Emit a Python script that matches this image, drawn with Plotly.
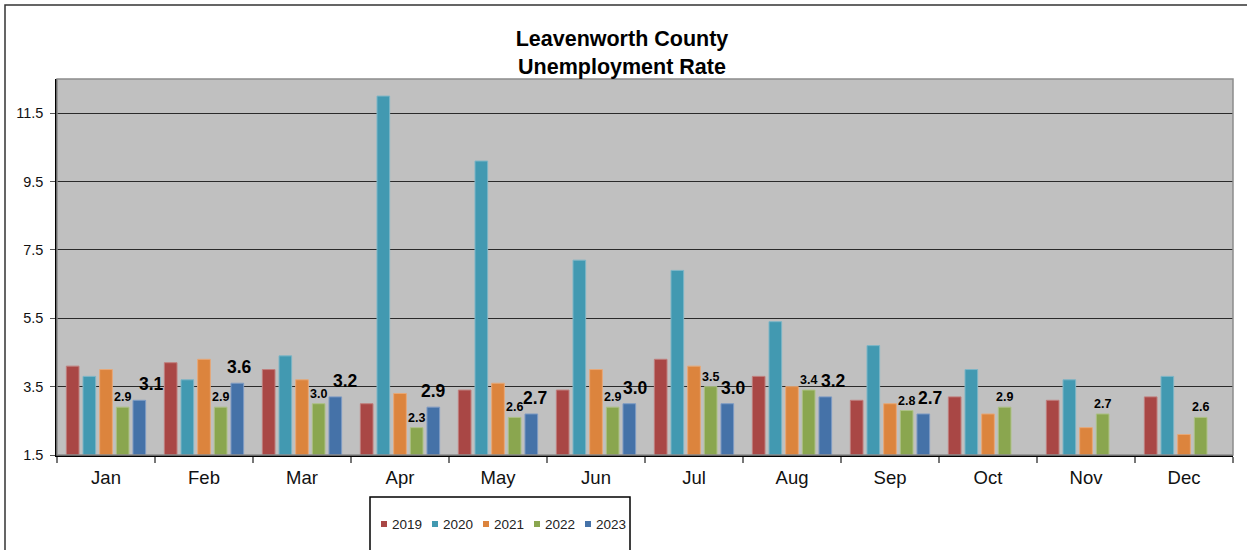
import plotly.graph_objects as go

months = ["Jan", "Feb", "Mar", "Apr", "May", "Jun", "Jul", "Aug", "Sep", "Oct", "Nov", "Dec"]
years = ["2019", "2020", "2021", "2022", "2023"]

rate_2019 = [4.1, 4.2, 4.0, 3.0, 3.4, 3.4, 4.3, 3.8, 3.1, 3.2, 3.1, 3.2]
rate_2020 = [3.8, 3.7, 4.4, 12.0, 10.1, 7.2, 6.9, 5.4, 4.7, 4.0, 3.7, 3.8]
rate_2021 = [4.0, 4.3, 3.7, 3.3, 3.6, 4.0, 4.1, 3.5, 3.0, 2.7, 2.3, 2.1]
rate_2022 = [2.9, 2.9, 3.0, 2.3, 2.6, 2.9, 3.5, 3.4, 2.8, 2.9, 2.7, 2.6]
rate_2023 = [3.1, 3.6, 3.2, 2.9, 2.7, 3.0, 3.0, 3.2, 2.7, None, None, None]

series = [rate_2019, rate_2020, rate_2021, rate_2022, rate_2023]
colors = ["#A94745", "#4299B1", "#DC843D", "#8AA64F", "#4572A8"]
edge_colors = ["#C07E7C", "#7DB6C7", "#E8A877", "#ADC185", "#7E9BC4"]

# extra horizontal nudge (px) of the 2023 data labels, as placed in the reference
label_nudge_2023 = [12, 2, 10, 0, 4, 6, 6, 8, 7, 0, 0, 0]

FONT = "Liberation Sans, Arial, sans-serif"

W, H = 1247, 550
L, R, T, B = 57, 14, 79, 95
pw = W - L - R
ph = H - T - B

BARGAP = 0.15
GROUPGAP = 0.24
slot_px = pw / len(months) * (1 - BARGAP) / len(years)

fig = go.Figure()
for i, (name, vals, col, ecol) in enumerate(zip(years, series, colors, edge_colors)):
    kw = {}
    if name == "2022":
        kw = dict(
            text=[None if v is None else f"{v:.1f}" for v in vals],
            textposition="outside",
            textangle=0,
            constraintext="none",
            cliponaxis=False,
            textfont=dict(family=FONT, size=12.5, color="#000000", weight="bold"),
        )
    fig.add_trace(go.Bar(
        x=months, y=vals, name=name,
        marker=dict(color=col, line=dict(color=ecol, width=1)),
        showlegend=False,
        **kw,
    ))


def px_x(p):
    return (p - L) / pw


def px_y(q):
    return (H - B - q) / ph


annotations = []
# 2023 data labels
for m, v, nudge in zip(months, rate_2023, label_nudge_2023):
    if v is None:
        continue
    annotations.append(dict(
        x=m, y=v, xref="x", yref="y", showarrow=False,
        text=f"<b>{v:.1f}</b>", xanchor="center", yanchor="bottom",
        xshift=2 * slot_px + nudge, yshift=4,
        font=dict(family=FONT, size=17.5, color="#000000"),
    ))

shapes = [
    # outer frame
    dict(type="rect", xref="paper", yref="paper", x0=px_x(5), x1=px_x(1300),
         y0=px_y(5), y1=px_y(700), line=dict(color="#333333", width=1.5), layer="below"),
    # plot area border
    dict(type="rect", xref="paper", yref="paper", x0=0, x1=1, y0=0, y1=1,
         line=dict(color="#8C8C8C", width=1.5), layer="above"),
    # legend box
    dict(type="rect", xref="paper", yref="paper", x0=px_x(370), x1=px_x(630),
         y0=px_y(497), y1=px_y(700), line=dict(color="#000000", width=1.5)),
]
for i, (name, col) in enumerate(zip(years, colors)):
    cx = 384 + 51 * i
    shapes.append(dict(type="rect", xref="paper", yref="paper",
                       x0=px_x(cx - 3), x1=px_x(cx + 3), y0=px_y(527), y1=px_y(521),
                       fillcolor=col, line=dict(width=0)))
    annotations.append(dict(xref="paper", yref="paper", x=px_x(cx + 6), y=px_y(524),
                            xanchor="left", yanchor="middle", showarrow=False,
                            text=name, font=dict(family=FONT, size=13.5, color="#222222")))

fig.update_layout(
    width=W, height=H,
    margin=dict(l=L, r=R, t=T, b=B),
    paper_bgcolor="#FFFFFF",
    plot_bgcolor="#C0C0C0",
    barmode="group",
    bargap=BARGAP,
    bargroupgap=GROUPGAP,
    title=dict(
        text="<b>Leavenworth County<br>Unemployment Rate</b>",
        x=px_x(622), xanchor="center", xref="paper",
        y=1 - 46 / H, yanchor="top", yref="container",
        font=dict(family=FONT, size=21.5, color="#000000"),
    ),
    xaxis=dict(
        type="category",
        showgrid=False,
        showline=True, linecolor="#000000", linewidth=1.5,
        ticks="outside", tickson="boundaries", ticklen=6, tickcolor="#777777", tickwidth=1.5,
        tickfont=dict(family=FONT, size=18.5, color="#111111"),
        ticklabelstandoff=5,
    ),
    yaxis=dict(
        range=[1.5, 12.5],
        tick0=1.5, dtick=2,
        tickformat=".1f",
        showgrid=True, gridcolor="#2A2A2A", gridwidth=1.2,
        zeroline=False,
        showline=True, linecolor="#000000", linewidth=1.5,
        ticks="outside", ticklen=5, tickcolor="#555555",
        tickfont=dict(family=FONT, size=14.5, color="#111111"),
        ticklabelstandoff=4,
    ),
    shapes=shapes,
    annotations=annotations,
    showlegend=False,
)

fig.write_html("out.html", config={"displayModeBar": False},
               post_script="document.body.style.margin='0';")
